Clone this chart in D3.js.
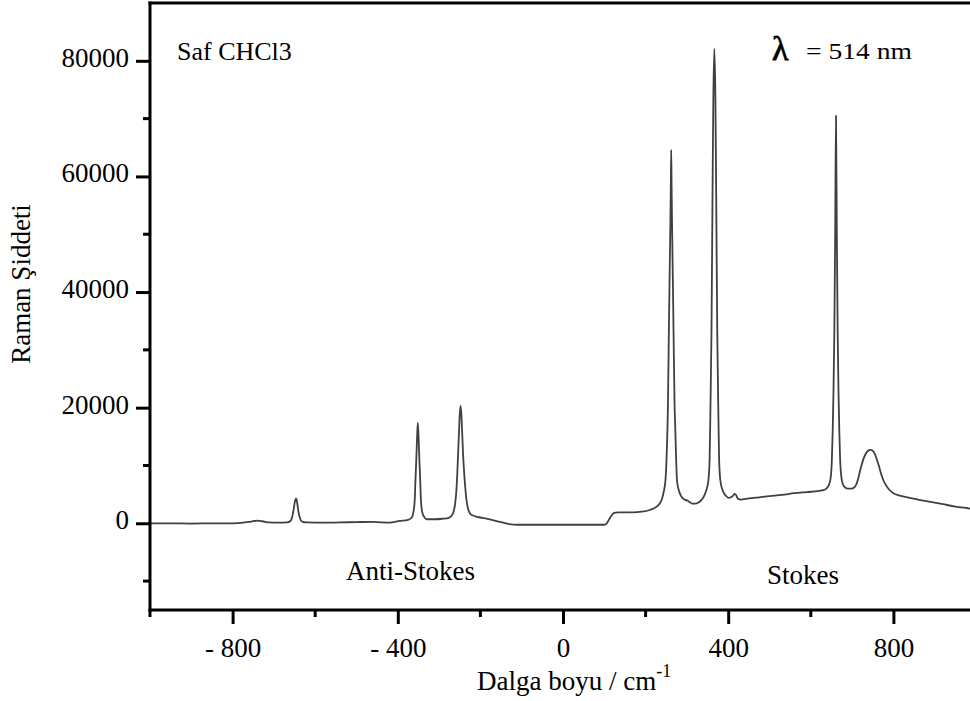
<!DOCTYPE html>
<html>
<head>
<meta charset="utf-8">
<script src="https://cdn.jsdelivr.net/npm/d3@7"></script>
<style>
  html, body { margin: 0; padding: 0; background: #fff; }
  svg { display: block; font-family: "Liberation Serif", "Times New Roman", serif; }
</style>
</head>
<body>
<svg id="chart" width="970" height="701"></svg>
<script>
// ---- data ----
const wavenumber = [
  -1000,-950,-900,-850,-800,-775,-755,-740,-728,-712,-690,-668,-660,-656,-652,-649,-646.5,-644,-641,-637,-632,-620,-580,-540,-500,-460,-420,-395,-375,-366,
  -362,-359,-357.5,-355.5,-353.5,-351.5,-349.5,-347.5,-345.5,-344,-341,-337,-330,-310,-290,-278,-270,-265,-261,-258,-256,-254,-252,-250,-248,-246,-244,-242,-240,-237,
  -234,-230,-224,-212,-200,-185,-168,-150,-130,-110,-50,0,60,100,106,112,118,124,132,170,190,210,225,235,240,244,248,250,252,254,
  256.3,258,260,261,262,263,264,266,267.7,270,272,274,276,280,286,294,302,308,313,320,328,336,340,346,352,355,357,359.5,362,364,
  366.5,369,371,373.5,376,378,381,386,394,401,407,412,416,419,423,430,450,475,500,530,560,590,620,636,643,648,651,653,655,657,
  659,661,663,665,667,669,671,674,678,683,690,698,705,710,715,720,726,732,738,744,749,755,760,765,770,776,
  782,790,800,815,834,860,890,920,950,980,1000
];
const intensity = [
  0,0,-50,0,0,100,300,450,350,150,100,150,400,1000,2500,3800,4300,3700,2200,900,300,150,100,150,200,250,100,400,600,1000,
  2000,4000,7000,10500,14500,17400,14500,10500,7000,4000,2000,1200,700,700,800,900,1300,2000,3500,5800,8500,12000,15500,18800,20300,18800,15500,12000,9500,6500,
  4200,2500,1600,1200,1000,800,500,200,-150,-250,-250,-250,-250,-250,0,700,1400,1800,1900,1900,2000,2300,2800,3500,4300,5500,7400,9800,14000,20000,
  33000,42000,52000,58000,64600,58000,52000,42000,33000,21000,16000,11000,7400,5800,4700,4100,3900,3600,3400,3400,3600,4100,4500,5500,7400,11000,20000,33000,56300,73500,
  82100,73500,56300,33000,20000,11000,7400,5800,4800,4400,4500,4800,5100,4900,4300,4100,4300,4500,4700,4900,5200,5400,5600,5900,6500,7800,11000,16000,23000,33300,
  50000,70500,50000,33300,23000,16000,11000,8000,6700,6200,6000,6000,6200,6700,7800,9300,10800,11900,12500,12700,12600,12000,11000,9900,8600,7400,
  6600,5800,5200,4800,4500,4100,3700,3300,2900,2600,2400
];

const xMajorTicks = [-800, -400, 0, 400, 800];
const xTickLabels = ["- 800", "- 400", "0", "400", "800"];
const xMinorTicks = [-1000, -600, -200, 200, 600];
const yMajorTicks = [0, 20000, 40000, 60000, 80000];
const yTickLabels = ["0", "20000", "40000", "60000", "80000"];
const yMinorTicks = [-10000, 10000, 30000, 50000, 70000];

const xDomain = [-1000, 1000];
const yDomain = [-15000, 90000];

// ---- drawing ----
const svg = d3.select("#chart");
const x = d3.scaleLinear().domain(xDomain).range([150, 976]);
const y = d3.scaleLinear().domain(yDomain).range([610, 3]);

const FONT = 27;

// spectrum
const pts = wavenumber.map((w, i) => [w, intensity[i]]);
const line = d3.line().x(d => x(d[0])).y(d => y(d[1])).curve(d3.curveMonotoneX);
svg.append("path")
  .datum(pts)
  .attr("d", line)
  .attr("fill", "none")
  .attr("stroke", "#404040")
  .attr("stroke-width", 1.8)
  .attr("stroke-linejoin", "round");

// x axis (major + minor)
const gx = svg.append("g").attr("transform", `translate(0,${y(yDomain[0])})`);
gx.call(d3.axisBottom(x).tickValues(xMajorTicks).tickSize(14).tickSizeOuter(0)
    .tickFormat((d, i) => xTickLabels[i]));
gx.call(g => g.selectAll(".tick line").attr("stroke", "#000").attr("stroke-width", 3));
gx.call(g => g.selectAll(".tick text").attr("font-size", FONT).attr("font-family", "Liberation Serif")
    .attr("fill", "#000").attr("y", 28).attr("dy", "0.71em"));
gx.select(".domain").remove();
gx.selectAll(".minor").data(xMinorTicks).enter().append("line")
  .attr("x1", d => x(d)).attr("x2", d => x(d)).attr("y1", 0).attr("y2", 7)
  .attr("stroke", "#000").attr("stroke-width", 3);

// y axis (major + minor)
const gy = svg.append("g").attr("transform", `translate(${x(xDomain[0])},0)`);
gy.call(d3.axisLeft(y).tickValues(yMajorTicks).tickSize(14).tickSizeOuter(0)
    .tickFormat((d, i) => yTickLabels[i]));
gy.call(g => g.selectAll(".tick line").attr("stroke", "#000").attr("stroke-width", 3));
gy.call(g => g.selectAll(".tick text").attr("font-size", FONT).attr("font-family", "Liberation Serif")
    .attr("fill", "#000").attr("x", -21).attr("dy", "0.2em"));
gy.select(".domain").remove();
gy.selectAll(".minor").data(yMinorTicks).enter().append("line")
  .attr("x1", 0).attr("x2", -7).attr("y1", d => y(d)).attr("y2", d => y(d))
  .attr("stroke", "#000").attr("stroke-width", 3);

// frame lines (left, bottom, top)
const frame = svg.append("g").attr("stroke", "#000").attr("stroke-width", 3).attr("fill", "none");
frame.append("line").attr("x1", x(xDomain[0])).attr("x2", x(xDomain[0]))
  .attr("y1", y(yDomain[1]) - 1.5).attr("y2", y(yDomain[0]) + 1.5);
frame.append("line").attr("x1", x(xDomain[0]) - 1.5).attr("x2", x(xDomain[1]))
  .attr("y1", y(yDomain[0])).attr("y2", y(yDomain[0]));
frame.append("line").attr("x1", x(xDomain[0]) - 1.5).attr("x2", x(xDomain[1]))
  .attr("y1", y(yDomain[1])).attr("y2", y(yDomain[1]));

// texts
const txt = (s, px, py, size, opts = {}) => {
  const t = svg.append("text").attr("x", px).attr("y", py).attr("font-size", size)
    .attr("fill", "#000").text(s);
  Object.entries(opts).forEach(([k, v]) => t.attr(k, v));
  return t;
};
txt("Saf CHCl3", 177, 60, 26);
txt("λ", 772, 60, 34, {"stroke": "#000", "stroke-width": 0.8});
txt("= 514 nm", 806, 59, 24, {"textLength": 106, "lengthAdjust": "spacingAndGlyphs"});
txt("Anti-Stokes", 346, 580, FONT);
txt("Stokes", 767, 584, FONT);

const xl = svg.append("text").attr("x", 477).attr("y", 690).attr("font-size", FONT).attr("fill", "#000");
xl.append("tspan").text("Dalga boyu / cm");
xl.append("tspan").attr("font-size", 18).attr("dy", -13).text("-1");

svg.append("text")
  .attr("transform", "translate(30,284) rotate(-90)")
  .attr("text-anchor", "middle")
  .attr("font-size", FONT)
  .attr("fill", "#000")
  .text("Raman Şiddeti");
</script>
</body>
</html>
